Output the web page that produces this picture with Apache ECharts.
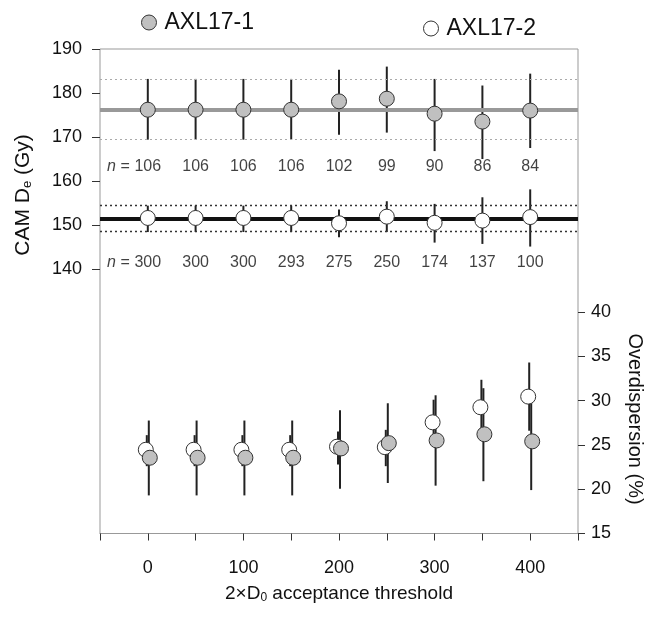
<!DOCTYPE html>
<html><head><meta charset="utf-8">
<script src="https://cdn.jsdelivr.net/npm/echarts@6/dist/echarts.min.js"></script>
<style>html,body{margin:0;padding:0;background:#fff}#c{width:645px;height:617px}</style>
</head><body><div id="c"></div>
<script>
// ---- data ----
const thresholds = [0, 50, 100, 150, 200, 250, 300, 350, 400];
const xTickLabels = [0, 100, 200, 300, 400];
const deTickLabels = [140, 150, 160, 170, 180, 190];
const odTickLabels = [15, 20, 25, 30, 35, 40];

// AXL17-1 (grey) CAM De (Gy)
const axl1De   = [176.2, 176.2, 176.2, 176.2, 178.1, 178.7, 175.3, 173.5, 176.0];
const axl1DeLo = [169.4, 169.4, 169.4, 169.4, 170.5, 171.0, 166.8, 165.0, 167.5];
const axl1DeHi = [183.2, 183.2, 183.2, 183.2, 185.3, 186.0, 183.2, 181.7, 184.4];
const axl1N    = [106, 106, 106, 106, 102, 99, 90, 86, 84];
const axl1Ref  = [176.2];
const axl1Band = [169.4, 183.2];

// AXL17-2 (white) CAM De (Gy)
const axl2De   = [151.6, 151.6, 151.6, 151.6, 150.4, 151.9, 150.5, 151.0, 151.8];
const axl2DeLo = [148.4, 148.4, 148.4, 148.4, 147.2, 148.4, 146.0, 145.7, 145.1];
const axl2DeHi = [154.4, 154.4, 154.4, 154.4, 153.5, 155.4, 154.8, 156.3, 158.1];
const axl2N    = [300, 300, 300, 293, 275, 250, 174, 137, 100];
const axl2Ref  = [151.4];
const axl2Band = [148.5, 154.6];

// Overdispersion (%)
const axl1Od   = [23.55, 23.55, 23.55, 23.55, 24.6, 25.2, 25.5, 26.2, 25.4];
const axl1OdLo = [19.3, 19.3, 19.3, 19.3, 20.05, 20.7, 20.4, 20.9, 19.9];
const axl1OdHi = [27.75, 27.75, 27.75, 27.75, 28.9, 29.7, 30.6, 31.4, 30.9];
const axl2Od   = [24.45, 24.45, 24.45, 24.45, 24.8, 24.75, 27.55, 29.25, 30.45];
const axl2OdLo = [22.6, 22.6, 22.6, 22.6, 22.8, 22.6, 25.0, 26.2, 26.6];
const axl2OdHi = [26.1, 26.1, 26.1, 26.1, 26.5, 26.7, 30.1, 32.35, 34.3];

// ---- style ----
const FONT = '"Liberation Sans", Arial, Helvetica, sans-serif';
const GREY = '#c0c0c0';
const EDGE = '#333';
const N1_Y = 163.3, N2_Y = 141.5;

function errorSeries(name, xi, yi, lo, hi, dx, marks) {
  const s = {
    type: 'custom', name: name, xAxisIndex: xi, yAxisIndex: yi, z: 3, silent: true,
    data: thresholds.map((t, i) => [t, lo[i], hi[i]]),
    encode: { x: 0, y: [1, 2] },
    renderItem: function (params, api) {
      const a = api.coord([api.value(0), api.value(1)]);
      const b = api.coord([api.value(0), api.value(2)]);
      return { type: 'line', shape: { x1: a[0] + dx, y1: a[1], x2: b[0] + dx, y2: b[1] },
               style: { stroke: '#222', lineWidth: 2 } };
    }
  };
  if (marks) s.markLine = marks;
  return s;
}
function pointSeries(name, xi, yi, vals, fill, dx, z) {
  return {
    type: 'scatter', name: name, xAxisIndex: xi, yAxisIndex: yi, z: z, silent: true,
    symbol: 'circle', symbolSize: 15, symbolOffset: [dx, 0],
    itemStyle: { color: fill, borderColor: EDGE, borderWidth: 1, opacity: 1 },
    data: thresholds.map((t, i) => [t, vals[i]])
  };
}
function nSeries(name, ns, yv) {
  return {
    type: 'scatter', name: name, xAxisIndex: 0, yAxisIndex: 0, z: 4, silent: true,
    symbolSize: 1, itemStyle: { color: 'rgba(0,0,0,0)' },
    data: thresholds.map((t, i) => [t, yv, ns[i]]),
    label: { show: true, position: 'inside', formatter: p => String(p.value[2]),
             fontSize: 16, color: '#111', fontFamily: FONT }
  };
}
function prefixSeries(name, yv) {
  return {
    type: 'scatter', name: name, xAxisIndex: 0, yAxisIndex: 0, z: 4, silent: true,
    symbolSize: 1, itemStyle: { color: 'rgba(0,0,0,0)' },
    data: [[thresholds[0], yv]],
    label: { show: true, position: 'inside', align: 'right', offset: [-18, 0],
             formatter: '{i|n} =', fontSize: 16, color: '#111', fontFamily: FONT,
             rich: { i: { fontStyle: 'italic', fontSize: 16, fontFamily: FONT, color: '#111' } } }
  };
}
function hline(v, color, width, type) {
  return { yAxis: v, lineStyle: { color: color, width: width, type: type } };
}
const markUpper1 = { symbol: 'none', silent: true, label: { show: false }, animation: false,
  data: [hline(axl1Ref[0], '#999', 4, 'solid'),
         hline(axl1Band[0], '#aaa', 1, [2, 3]), hline(axl1Band[1], '#aaa', 1, [2, 3])] };
const markUpper2 = { symbol: 'none', silent: true, label: { show: false }, animation: false,
  data: [hline(axl2Ref[0], '#111', 4, 'solid'),
         hline(axl2Band[0], '#333', 1.3, [2, 3]), hline(axl2Band[1], '#333', 1.3, [2, 3])] };

const labelStyle = { fontSize: 18, color: '#111', fontFamily: FONT };

const option = {
  animation: false,
  backgroundColor: '#fff',
  textStyle: { fontFamily: FONT },
  grid: [
    { left: 100, right: 67, top: 49, height: 220 },
    { left: 100, right: 67, top: 312, height: 221.5 },
    { left: 100, right: 67, top: 49, height: 484.5, show: true, borderColor: '#999', borderWidth: 1, backgroundColor: 'transparent' }
  ],
  legend: [
    { data: [{ name: 'AXL17-1', icon: 'circle', itemStyle: { color: GREY, borderColor: EDGE, borderWidth: 1 } }],
      left: 136, top: 6, itemWidth: 15, itemHeight: 15, itemGap: 0, selectedMode: false,
      textStyle: { fontSize: 23, color: '#111', fontFamily: FONT, padding: [0, 0, 0, 3] } },
    { data: [{ name: 'AXL17-2', icon: 'circle', itemStyle: { color: '#fff', borderColor: EDGE, borderWidth: 1 } }],
      left: 418, top: 12, itemWidth: 15, itemHeight: 15, itemGap: 0, selectedMode: false,
      textStyle: { fontSize: 23, color: '#111', fontFamily: FONT, padding: [0, 0, 0, 3] } }
  ],
  xAxis: [
    { gridIndex: 0, type: 'value', min: -50, max: 450, interval: 50, show: false },
    { gridIndex: 1, type: 'value', min: -50, max: 450, interval: 50,
      axisLine: { show: true, onZero: false, lineStyle: { color: '#999', width: 1 } },
      axisTick: { show: true, length: 7, inside: false, lineStyle: { color: '#333', width: 1 } },
      splitLine: { show: false },
      axisLabel: Object.assign({ margin: 26, showMinLabel: true, showMaxLabel: true,
        formatter: v => (xTickLabels.indexOf(v) >= 0 ? String(v) : '') }, labelStyle),
      name: '2×D{s|0} acceptance threshold', nameLocation: 'middle', nameGap: 50,
      nameTextStyle: { fontSize: 19, color: '#111', fontFamily: FONT,
        rich: { s: { fontSize: 12, color: '#111', fontFamily: FONT, verticalAlign: 'bottom', padding: [8, 0, 0, 0] } } } },
    { gridIndex: 2, type: 'value', min: 0, max: 1, show: false }
  ],
  yAxis: [
    { gridIndex: 0, type: 'value', min: 140, max: 190, interval: 10, position: 'left',
      axisLine: { show: false, onZero: false }, splitLine: { show: false },
      axisTick: { show: true, length: 8, lineStyle: { color: '#333' } },
      axisLabel: Object.assign({ margin: 18, formatter: v => (deTickLabels.indexOf(v) >= 0 ? String(v) : '') }, labelStyle) },
    { gridIndex: 1, type: 'value', min: 15, max: 40, interval: 5, position: 'right',
      axisLine: { show: false, onZero: false }, splitLine: { show: false },
      axisTick: { show: true, length: 7, lineStyle: { color: '#333' } },
      axisLabel: Object.assign({ margin: 13, formatter: v => (odTickLabels.indexOf(v) >= 0 ? String(v) : '') }, labelStyle) },
    { gridIndex: 2, type: 'value', min: 0, max: 1, show: false }
  ],
  graphic: [
    { type: 'text', x: 23, y: 195, rotation: Math.PI / 2, silent: true,
      style: { text: 'CAM D{s|e} (Gy)', fontSize: 21, fontFamily: FONT, fill: '#111',
               align: 'center', verticalAlign: 'middle',
               rich: { s: { fontSize: 13, fontFamily: FONT, fill: '#111', verticalAlign: 'bottom', padding: [8, 0, 0, 0] } } } },
    { type: 'text', x: 635, y: 419, rotation: -Math.PI / 2, silent: true,
      style: { text: 'Overdispersion (%)', fontSize: 20, fontFamily: FONT, fill: '#111',
               align: 'center', verticalAlign: 'middle' } }
  ],
  series: [
    errorSeries('err1', 0, 0, axl1DeLo, axl1DeHi, 0, markUpper1),
    errorSeries('err2', 0, 0, axl2DeLo, axl2DeHi, 0, markUpper2),
    pointSeries('AXL17-1', 0, 0, axl1De, GREY, 0, 6),
    pointSeries('AXL17-2', 0, 0, axl2De, '#fff', 0, 6),
    nSeries('n1', axl1N, N1_Y),
    nSeries('n2', axl2N, N2_Y),
    prefixSeries('p1', N1_Y),
    prefixSeries('p2', N2_Y),
    errorSeries('err3', 1, 1, axl1OdLo, axl1OdHi, 1, null),
    errorSeries('err4', 1, 1, axl2OdLo, axl2OdHi, -1, null),
    pointSeries('AXL17-2', 1, 1, axl2Od, '#fff', -2, 5),
    pointSeries('AXL17-1', 1, 1, axl1Od, GREY, 2, 6)
  ]
};
const chart = echarts.init(document.getElementById('c'), null, { renderer: 'canvas' });
chart.setOption(option);
</script>
</body></html>
